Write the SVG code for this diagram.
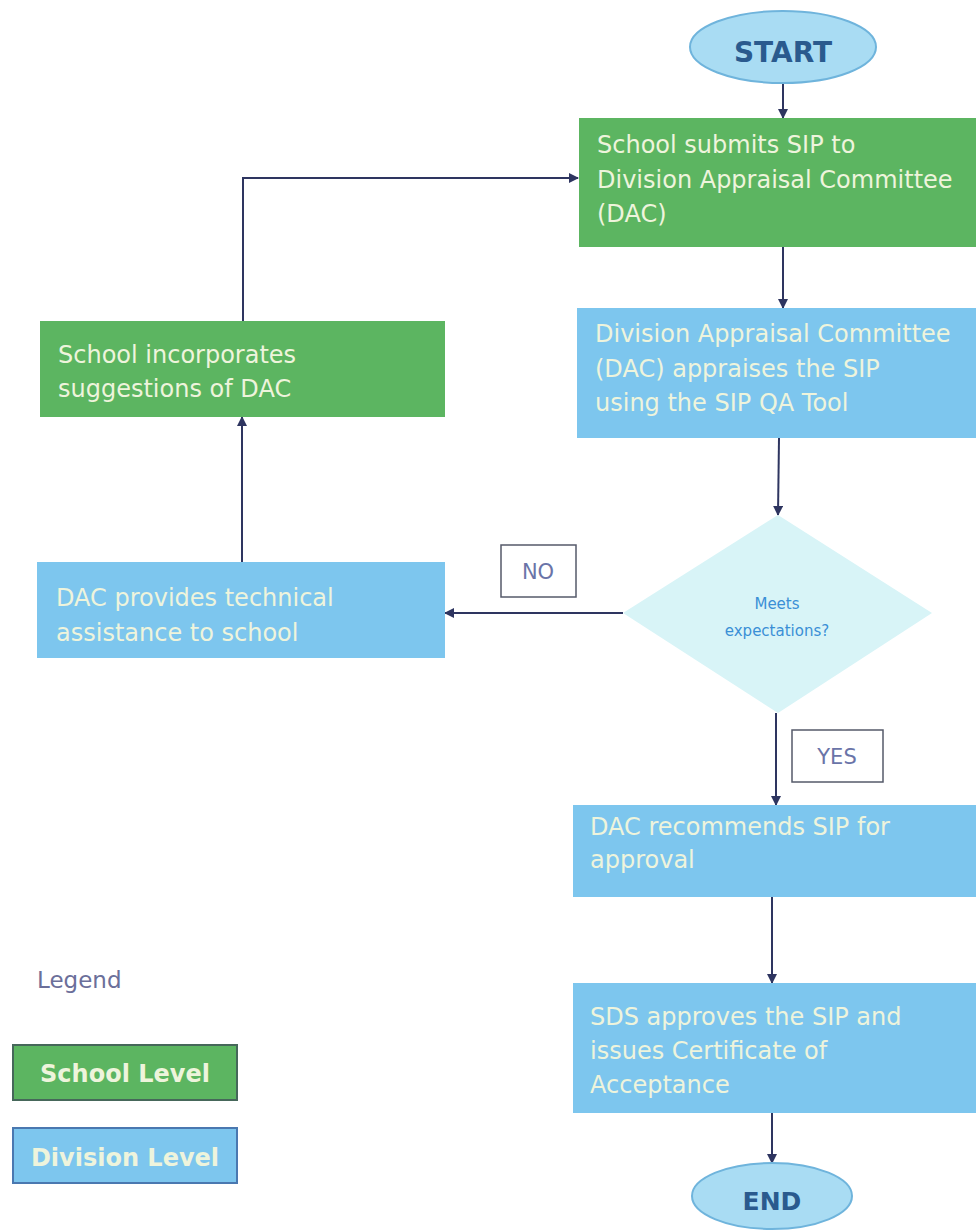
<svg xmlns="http://www.w3.org/2000/svg" width="977" height="1230" viewBox="0 0 977 1230">
<defs>
<marker id="ah" viewBox="0 0 10 10" refX="9" refY="5" markerWidth="10" markerHeight="10" markerUnits="userSpaceOnUse" orient="auto">
<path d="M0,0 L10,5 L0,10 z" fill="#2e3560"/>
</marker>
<style>
.green{fill:#5cb561;}
.blue{fill:#7dc6ee;}
.txt{font-family:"DejaVu Sans",Verdana,sans-serif;font-size:24px;fill:#eef4dc;}
.term{fill:#a9dcf3;stroke:#6fb4dc;stroke-width:2;}
.termtxt{font-family:"DejaVu Sans",Verdana,sans-serif;font-weight:bold;fill:#2a5a8e;text-anchor:middle;}
.conn{stroke:#2e3560;stroke-width:2;fill:none;}
.lbl{fill:#ffffff;stroke:#555a6a;stroke-width:1.5;}
.lbltxt{font-family:"DejaVu Sans",Verdana,sans-serif;font-size:21px;fill:#6a74a8;text-anchor:middle;}
.dtxt{font-family:"DejaVu Sans",Verdana,sans-serif;font-size:15px;fill:#3a8fd6;text-anchor:middle;}
.legbtxt{font-family:"DejaVu Sans",Verdana,sans-serif;font-weight:bold;font-size:24px;fill:#eef4dc;text-anchor:middle;}
</style>
</defs>
<rect width="977" height="1230" fill="#ffffff"/>

<g id="connectors">
<line class="conn" x1="783" y1="83" x2="783" y2="118" marker-end="url(#ah)"/>
<line class="conn" x1="783" y1="247" x2="783" y2="308" marker-end="url(#ah)"/>
<line class="conn" x1="779" y1="438" x2="778" y2="515" marker-end="url(#ah)"/>
<line class="conn" x1="623" y1="613" x2="445" y2="613" marker-end="url(#ah)"/>
<line class="conn" x1="242" y1="562" x2="242" y2="417" marker-end="url(#ah)"/>
<polyline class="conn" points="243,321 243,178 578,178" marker-end="url(#ah)"/>
<line class="conn" x1="776" y1="713" x2="776" y2="805" marker-end="url(#ah)"/>
<line class="conn" x1="772" y1="897" x2="772" y2="983" marker-end="url(#ah)"/>
<line class="conn" x1="772" y1="1113" x2="772" y2="1163" marker-end="url(#ah)"/>
</g>

<g id="start">
<ellipse class="term" cx="783" cy="47" rx="93" ry="36"/>
<text class="termtxt" x="783" y="62" font-size="28">START</text>
</g>

<g id="submit">
<rect class="green" x="579" y="118" width="397" height="129"/>
<text class="txt" x="597" y="153">School submits SIP to</text>
<text class="txt" x="597" y="188">Division Appraisal Committee</text>
<text class="txt" x="597" y="222">(DAC)</text>
</g>

<g id="appraise">
<rect class="blue" x="577" y="308" width="399" height="130"/>
<text class="txt" x="595" y="342">Division Appraisal Committee</text>
<text class="txt" x="595" y="377">(DAC) appraises the SIP</text>
<text class="txt" x="595" y="411">using the SIP QA Tool</text>
</g>

<g id="decision">
<polygon points="778,515 932,613 778,713 623,613" fill="#d8f4f7"/>
<text class="dtxt" x="777" y="609">Meets</text>
<text class="dtxt" x="777" y="636">expectations?</text>
</g>

<g id="label-no">
<rect class="lbl" x="501" y="545" width="75" height="52"/>
<text class="lbltxt" x="538" y="579">NO</text>
</g>

<g id="assist">
<rect class="blue" x="37" y="562" width="408" height="96"/>
<text class="txt" x="56" y="606">DAC provides technical</text>
<text class="txt" x="56" y="641">assistance to school</text>
</g>

<g id="incorporate">
<rect class="green" x="40" y="321" width="405" height="96"/>
<text class="txt" x="58" y="363">School incorporates</text>
<text class="txt" x="58" y="397">suggestions of DAC</text>
</g>

<g id="label-yes">
<rect class="lbl" x="792" y="730" width="91" height="52"/>
<text class="lbltxt" x="837" y="764">YES</text>
</g>

<g id="recommend">
<rect class="blue" x="573" y="805" width="403" height="92"/>
<text class="txt" x="590" y="835">DAC recommends SIP for</text>
<text class="txt" x="590" y="868">approval</text>
</g>

<g id="approve">
<rect class="blue" x="573" y="983" width="403" height="130"/>
<text class="txt" x="590" y="1025">SDS approves the SIP and</text>
<text class="txt" x="590" y="1059">issues Certificate of</text>
<text class="txt" x="590" y="1093">Acceptance</text>
</g>

<g id="end">
<ellipse class="term" cx="772" cy="1196" rx="80" ry="33"/>
<text class="termtxt" x="772" y="1210" font-size="25">END</text>
</g>

<g id="legend">
<text x="37" y="988" font-family="DejaVu Sans,Verdana,sans-serif" font-size="23" fill="#6b6f9a">Legend</text>
<rect x="13" y="1045" width="224" height="55" fill="#5cb561" stroke="#46675a" stroke-width="2"/>
<text class="legbtxt" x="125" y="1082">School Level</text>
<rect x="13" y="1128" width="224" height="55" fill="#7dc6ee" stroke="#4a78b0" stroke-width="2"/>
<text class="legbtxt" x="125" y="1166">Division Level</text>
</g>
</svg>
